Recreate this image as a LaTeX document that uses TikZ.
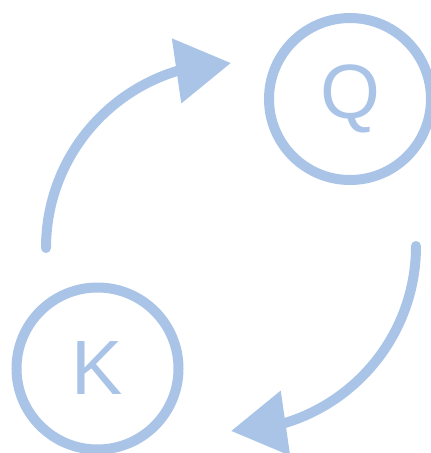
\documentclass[tikz,border=0pt]{standalone}
\usepackage{fontspec}
\setmainfont{Liberation Sans}
\usetikzlibrary{arrows.meta, bending, positioning}
\definecolor{softblue}{RGB}{170,196,231}

\begin{document}
\begin{tikzpicture}[
    x=1pt, y=-1pt,
    tokencirc/.style={draw=softblue, line width=10pt, circle, minimum size=162pt, inner sep=0pt, text=softblue, font=\fontsize{77}{80}\selectfont},
    cyclearrow/.style={draw=softblue, line width=10pt, line cap=round, -{Triangle[length=55pt, width=63pt, flex]}, softblue},
    ]
    \useasboundingbox (0,0) rectangle (431,453);

    % Token circles
    \node[tokencirc] (qnode) at (350,99) {Q};
    \node[tokencirc] (knode) at (97.5,368.5) {K};

    % Start points of the two arcs
    \coordinate (kstart) at (46,248);
    \coordinate (qstart) at (416,246);

    % Arrows (quarter circles)
    \draw[cyclearrow] (kstart) arc[start angle=180, end angle=270, radius=185];
    \draw[cyclearrow] (qstart) arc[start angle=0, end angle=90, radius=185];
\end{tikzpicture}
\end{document}
